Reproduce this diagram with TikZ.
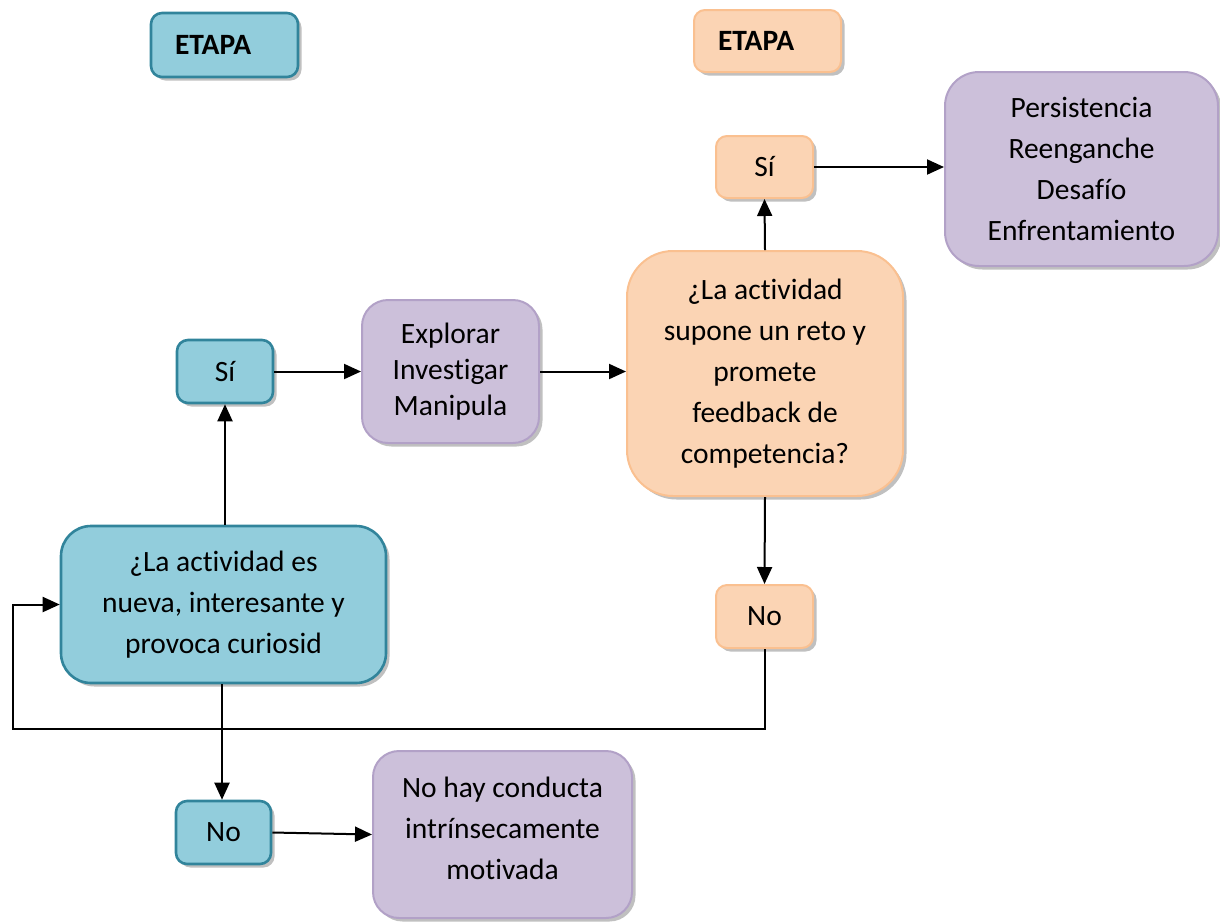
\documentclass[tikz,border=0pt]{standalone}
\usepackage{fontspec}
\setmainfont{Carlito}[Ligatures=NoCommon]
\usetikzlibrary{arrows.meta,shadows}
\definecolor{bluefill}{HTML}{92CDDC}
\definecolor{blueline}{HTML}{31849B}
\definecolor{orfill}{HTML}{FBD4B4}
\definecolor{orline}{HTML}{FAC090}
\definecolor{pufill}{HTML}{CCC0DA}
\definecolor{puline}{HTML}{B2A1C7}
\tikzset{
  txt/.style={font=\fontsize{29.5}{41}\selectfont},
  box/.style={draw, inner sep=0pt, align=center, txt,
    drop shadow={shadow xshift=3.5pt, shadow yshift=-3.5pt, opacity=0.45, fill=black!55}},
  bluebox/.style={box, fill=bluefill, draw=blueline, line width=2.6pt},
  orbox/.style={box, fill=orfill, draw=orline, line width=2pt},
  pubox/.style={box, fill=pufill, draw=puline, line width=2pt},
  arr/.style={line width=2pt, -{Triangle[length=17pt,width=15pt]}}
}
\begin{document}
\begin{tikzpicture}[x=1pt,y=-1pt]
\useasboundingbox (0,0) rectangle (1220,922);

% stage headers
\node[bluebox, rounded corners=11pt, minimum width=147pt, minimum height=64pt,
      text width=147pt, align=left] (etapa1) at (224.5,45) {\hspace*{24pt}\bfseries ETAPA};
\node[orbox, rounded corners=11pt, minimum width=147pt, minimum height=62pt,
      text width=147pt, align=left] (etapa2) at (767.5,41) {\hspace*{24pt}\bfseries ETAPA};

% first stage: novelty
\node[bluebox, rounded corners=30pt, minimum width=325pt, minimum height=157pt,
      font=\fontsize{29.5}{41}\selectfont] (q1) at (223.5,604.5)
  {¿La actividad es\\nueva, interesante y\\provoca curiosid};
\node[bluebox, rounded corners=11pt, minimum width=96pt, minimum height=63pt] (si1) at (225,371.5) {Sí};
\node[bluebox, rounded corners=11pt, minimum width=95pt, minimum height=63pt] (no1) at (223.5,832.5) {No};
\node[pubox, rounded corners=26pt, minimum width=177pt, minimum height=143pt,
      font=\fontsize{29.5}{36}\selectfont] (expl) at (450.5,371.5)
  {Explorar\\Investigar\\Manipula};
\node[pubox, rounded corners=26pt, minimum width=259pt, minimum height=167pt] (nohay) at (502.5,834.5) {};
\node[txt, align=center, inner sep=0pt] (nohaytext) at (502.5,828)
  {No hay conducta\\intrínsecamente\\motivada};

% second stage: challenge
\node[orbox, rounded corners=46pt, minimum width=276pt, minimum height=245pt] (q2) at (765,373.5)
  {¿La actividad\\supone un reto y\\promete\\feedback de\\competencia?};
\node[orbox, rounded corners=11pt, minimum width=97pt, minimum height=62pt] (si2) at (764.5,167) {Sí};
\node[orbox, rounded corners=11pt, minimum width=97pt, minimum height=63pt] (no2) at (764.5,616.5) {No};
\node[pubox, rounded corners=34pt, minimum width=273pt, minimum height=194pt] (pers) at (1081.5,169)
  {Persistencia\\Reenganche\\Desafío\\Enfrentamiento};

% connectors
\draw[arr] (q1.north -| si1) -- (si1.south);
\draw[arr] (si1.east) -- (expl.west);
\draw[arr] (expl.east) -- (expl.east -| q2.west);
\draw[arr] (q2.north) -- (si2.south);
\draw[arr] (si2.east) -- (si2.east -| pers.west);
\draw[arr] (q2.south) -- (no2.north);
\coordinate (loop) at (13,729);
\draw[arr] (no2.south) |- (loop) |- (q1.west);
\draw[arr] (q1.south -| 222,0) -- (no1.north -| 222,0);
\draw[arr] (no1.east) -- (nohay.west);
\end{tikzpicture}
\end{document}
